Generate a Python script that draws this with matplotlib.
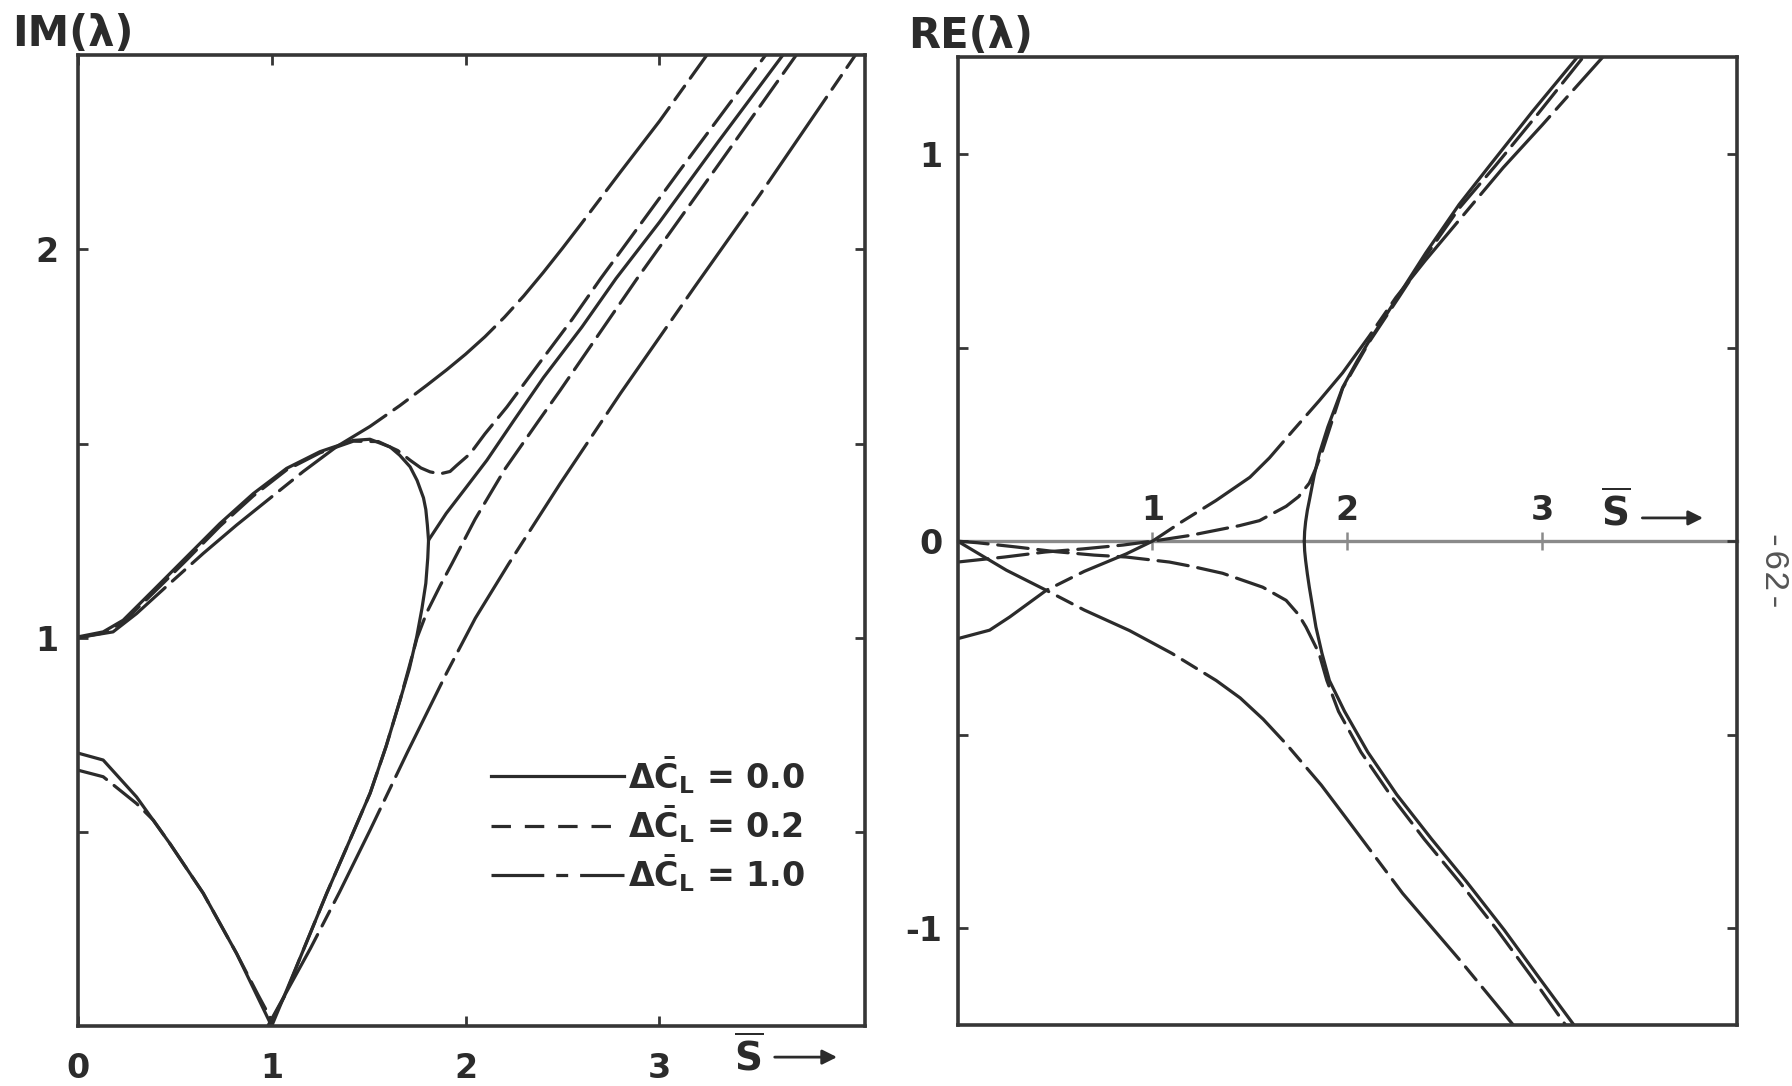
import matplotlib
matplotlib.use('Agg')
import matplotlib.pyplot as plt
from matplotlib.lines import Line2D

plt.rcParams['font.family'] = ['DejaVu Sans']
plt.rcParams['font.weight'] = 'bold'
plt.rcParams['mathtext.fontset'] = 'custom'
plt.rcParams['mathtext.rm'] = 'DejaVu Sans:bold'
plt.rcParams['mathtext.it'] = 'DejaVu Sans:bold'
plt.rcParams['mathtext.bf'] = 'DejaVu Sans:bold'
plt.rcParams['lines.scale_dashes'] = False

INK = '#2b2b2b'
FRAME = '#363636'
GREY = '#8a8a8a'
LW = 2.3
DASHED = (22, 7)
DASHDOT = (75, 7, 12, 7)

# ---- IM(lambda) vs S, delta CL = 0.0 (solid)
s_im0_up = [0.0, 0.131, 0.234, 0.389, 0.561, 0.733, 0.905, 1.077, 1.249, 1.421, 1.507, 1.611, 1.66, 1.714,
            1.75, 1.783, 1.795, 1.803, 1.809]
im0_up = [1.002, 1.015, 1.045, 1.122, 1.208, 1.294, 1.371, 1.436, 1.479, 1.508, 1.511, 1.491, 1.47, 1.44,
          1.405, 1.36, 1.33, 1.29, 1.251]
s_im0_low = [0.0, 0.131, 0.303, 0.475, 0.647, 0.819, 1.0, 1.142, 1.284, 1.4, 1.508, 1.59, 1.662, 1.71,
             1.748, 1.775, 1.795, 1.805, 1.809]
im0_low = [0.703, 0.685, 0.59, 0.47, 0.342, 0.187, 0.0, 0.17, 0.342, 0.475, 0.6, 0.72, 0.839, 0.92,
           1.002, 1.075, 1.14, 1.205, 1.251]
s_im0_join = [1.809, 1.9, 2.0, 2.11, 2.25, 2.402, 2.6, 2.776, 3.0, 3.3, 3.636]
im0_join = [1.251, 1.32, 1.385, 1.457, 1.56, 1.67, 1.8, 1.925, 2.07, 2.275, 2.5]

# delta CL = 0.2 (dashed)
s_im2_up = [0.0, 0.131, 0.234, 0.389, 0.561, 0.733, 0.905, 1.077, 1.249, 1.421, 1.55, 1.65, 1.714, 1.77,
            1.817, 1.869, 1.92, 1.955, 2.024, 2.1, 2.213, 2.385, 2.55, 2.697, 3.1, 3.547]
im2_up = [1.0, 1.012, 1.04, 1.115, 1.2, 1.287, 1.365, 1.432, 1.476, 1.506, 1.505, 1.482, 1.457, 1.437,
          1.427, 1.422, 1.428, 1.444, 1.474, 1.525, 1.594, 1.71, 1.82, 1.925, 2.2, 2.5]
s_im2_low = [0.0, 0.131, 0.303, 0.39, 0.475, 0.647, 0.819, 0.93, 1.0, 1.07, 1.142, 1.284, 1.4, 1.508, 1.59,
             1.662, 1.75, 1.8, 1.87, 1.929, 2.049, 2.204, 2.376, 2.488, 2.885, 3.3, 3.705]
im2_low = [0.659, 0.642, 0.573, 0.53, 0.47, 0.342, 0.187, 0.08, 0.015, 0.08, 0.17, 0.342, 0.475, 0.6, 0.72,
           0.839, 1.0, 1.065, 1.135, 1.19, 1.305, 1.435, 1.558, 1.637, 1.925, 2.215, 2.5]

# delta CL = 1.0 (dash-dot)
s_im10_up = [0.0, 0.182, 0.303, 0.475, 0.647, 0.819, 0.991, 1.163, 1.335, 1.507, 1.662, 1.8, 1.903, 2.0,
             2.1, 2.2, 2.3, 2.4, 2.5, 2.6, 2.8, 3.0, 3.244]
im10_up = [1.0, 1.015, 1.062, 1.14, 1.217, 1.29, 1.359, 1.428, 1.492, 1.544, 1.598, 1.65, 1.69, 1.73,
           1.775, 1.825, 1.88, 1.94, 2.003, 2.068, 2.2, 2.33, 2.5]
s_im10_low = [0.98, 1.2, 1.35, 1.507, 1.7, 1.903, 2.05, 2.222, 2.488, 2.8, 3.181, 3.517, 4.01]
im10_low = [0.0, 0.2, 0.345, 0.504, 0.705, 0.91, 1.05, 1.19, 1.397, 1.63, 1.903, 2.14, 2.5]

# ---- RE(lambda) vs S
s_re0_up = [1.779, 1.781, 1.786, 1.795, 1.805, 1.83, 1.856, 1.9, 1.976, 2.05, 2.113, 2.2, 2.267, 2.403,
            2.574, 2.73, 2.95, 3.18]
re0_up = [0.0, 0.025, 0.05, 0.08, 0.105, 0.17, 0.225, 0.295, 0.397, 0.465, 0.518, 0.585, 0.638, 0.745,
          0.87, 0.97, 1.11, 1.25]
s_re0_low = [1.779, 1.781, 1.786, 1.795, 1.805, 1.839, 1.87, 1.908, 1.986, 2.105, 2.254, 2.433, 2.612,
             2.806, 2.98, 3.163]
re0_low = [0.0, -0.025, -0.05, -0.085, -0.119, -0.222, -0.29, -0.36, -0.44, -0.545, -0.655, -0.77, -0.88,
           -1.005, -1.125, -1.25]

s_re2_up = [0.0, 0.241, 0.45, 0.643, 0.85, 1.0, 1.19, 1.446, 1.549, 1.686, 1.75, 1.805, 1.84, 1.87, 1.976,
            2.113, 2.267, 2.403, 2.574, 2.76, 2.98, 3.21]
re2_up = [-0.054, -0.041, -0.028, -0.02, -0.01, 0.0, 0.0145, 0.04, 0.053, 0.09, 0.115, 0.15, 0.19, 0.23,
          0.395, 0.515, 0.632, 0.737, 0.86, 0.97, 1.105, 1.25]
s_re2_low = [0.0, 0.1, 0.3, 0.5, 0.7, 0.865, 1.087, 1.2, 1.36, 1.566, 1.686, 1.75, 1.788, 1.855, 1.895,
             1.955, 2.07, 2.22, 2.395, 2.575, 2.77, 2.945, 3.12]
re2_low = [0.0, -0.004, -0.015, -0.027, -0.036, -0.041, -0.054, -0.065, -0.083, -0.119, -0.153, -0.19,
           -0.222, -0.29, -0.36, -0.44, -0.545, -0.655, -0.77, -0.88, -1.005, -1.125, -1.25]

s_re10_up = [0.0, 0.164, 0.267, 0.455, 0.65, 0.865, 1.0, 1.15, 1.326, 1.5, 1.6, 1.72, 1.856, 1.976, 2.113,
             2.25, 2.4, 2.6, 2.8, 3.0, 3.15, 3.31]
re10_up = [-0.252, -0.23, -0.196, -0.127, -0.078, -0.033, 0.0, 0.05, 0.105, 0.165, 0.215, 0.285, 0.363,
           0.435, 0.53, 0.63, 0.725, 0.845, 0.965, 1.075, 1.16, 1.25]
s_re10_low = [0.0, 0.1, 0.25, 0.455, 0.65, 0.882, 1.1, 1.327, 1.45, 1.568, 1.688, 1.866, 1.986, 2.284,
              2.582, 2.85]
re10_low = [0.0, -0.03, -0.075, -0.127, -0.178, -0.231, -0.29, -0.36, -0.405, -0.46, -0.525, -0.63, -0.71,
            -0.91, -1.085, -1.249]

legend_labels = [r'$\Delta\bar{\mathrm{C}}_{\mathrm{L}}$ = 0.0',
                 r'$\Delta\bar{\mathrm{C}}_{\mathrm{L}}$ = 0.2',
                 r'$\Delta\bar{\mathrm{C}}_{\mathrm{L}}$ = 1.0']

fig = plt.figure(figsize=(17.92, 10.86), dpi=100)
ax1 = fig.add_axes([0.0434, 0.0552, 0.4393, 0.894])
ax2 = fig.add_axes([0.5344, 0.0562, 0.4349, 0.891])


def curve(ax, s, v, style):
    kw = dict(color=INK, lw=LW, solid_capstyle='round', dash_capstyle='round',
              solid_joinstyle='round')
    if style == 'dashed':
        kw['dashes'] = DASHED
    elif style == 'dashdot':
        kw['dashes'] = DASHDOT
    ax.plot(s, v, **kw)


# left: imaginary part
curve(ax1, s_im0_up, im0_up, 'solid')
curve(ax1, s_im0_low, im0_low, 'solid')
curve(ax1, s_im0_join, im0_join, 'solid')
curve(ax1, s_im2_up, im2_up, 'dashed')
curve(ax1, s_im2_low, im2_low, 'dashed')
curve(ax1, s_im10_up, im10_up, 'dashdot')
curve(ax1, s_im10_low, im10_low, 'dashdot')

# right: real part
curve(ax2, s_re0_up, re0_up, 'solid')
curve(ax2, s_re0_low, re0_low, 'solid')
curve(ax2, s_re2_up, re2_up, 'dashed')
curve(ax2, s_re2_low, re2_low, 'dashed')
curve(ax2, s_re10_up, re10_up, 'dashdot')
curve(ax2, s_re10_low, re10_low, 'dashdot')

for ax in (ax1, ax2):
    for sp in ax.spines.values():
        sp.set_color(FRAME)
        sp.set_linewidth(2.6)

ax1.set_xlim(0, 4.06)
ax1.set_ylim(0, 2.5)
ax1.set_xticks([0, 1, 2, 3], labels=['0', '1', '2', '3'])
ax1.set_yticks([0.5, 1, 1.5, 2], labels=['', '1', '', '2'])
ax1.tick_params(axis='x', direction='in', top=True, bottom=True, length=7, width=2,
                color=FRAME, pad=19, labelsize=24, labelcolor=INK)
ax1.tick_params(axis='y', direction='in', left=True, right=True, length=7, width=2,
                color=FRAME, pad=14, labelsize=24, labelcolor=INK)

ax2.set_xlim(0, 4.0)
ax2.set_ylim(-1.25, 1.25)
ax2.set_xticks([])
ax2.set_yticks([-1, -0.5, 0, 0.5, 1], labels=['-1', '', '0', '', '1'])
ax2.tick_params(axis='y', direction='in', left=True, right=True, length=7, width=2,
                color=FRAME, pad=11, labelsize=24, labelcolor=INK)

# S axis drawn through RE = 0
sx = ax2.secondary_xaxis(0.5)
sx.set_xticks([1, 2, 3], labels=['1', '2', '3'])
sx.tick_params(direction='inout', length=13, width=1.8, color=GREY, pad=4,
               labelsize=24, labelcolor=INK)
sx.spines['top'].set_color(GREY)
sx.spines['top'].set_linewidth(2.4)

# S-bar arrows
ax1.text(3.46, -0.08, r'$\overline{\mathrm{S}}$', fontsize=28, color=INK,
         ha='center', va='center', clip_on=False)
ax1.annotate('', xy=(3.93, -0.08), xytext=(3.58, -0.08), annotation_clip=False,
             arrowprops=dict(arrowstyle='-|>', lw=2, color=INK, mutation_scale=22))
ax2.text(3.38, 0.075, r'$\overline{\mathrm{S}}$', fontsize=28, color=INK,
         ha='center', va='center')
ax2.annotate('', xy=(3.84, 0.06), xytext=(3.5, 0.06),
             arrowprops=dict(arrowstyle='-|>', lw=2, color=INK, mutation_scale=22))

handles = [Line2D([], [], color=INK, lw=LW),
           Line2D([], [], color=INK, lw=LW, dashes=(14, 10)),
           Line2D([], [], color=INK, lw=LW, dashes=(38, 8.6, 8.6, 8.6))]
ax1.legend(handles, legend_labels, loc='center left', bbox_to_anchor=(0.525, 0.208),
           frameon=False, fontsize=24, handlelength=4.0, handletextpad=0.12,
           labelspacing=0.22, borderpad=0, borderaxespad=0, labelcolor=INK)

fig.text(0.0067, 0.969, 'IM(λ)', fontsize=30, color=INK, ha='left', va='center')
fig.text(0.507, 0.967, 'RE(λ)', fontsize=30, color=INK, ha='left', va='center')
fig.text(0.987, 0.47, '-62-', rotation=-90, fontsize=25, family='Liberation Mono',
         weight='normal', color='#555555', ha='center', va='center')

fig.savefig('out.png', dpi=100, facecolor='white')
